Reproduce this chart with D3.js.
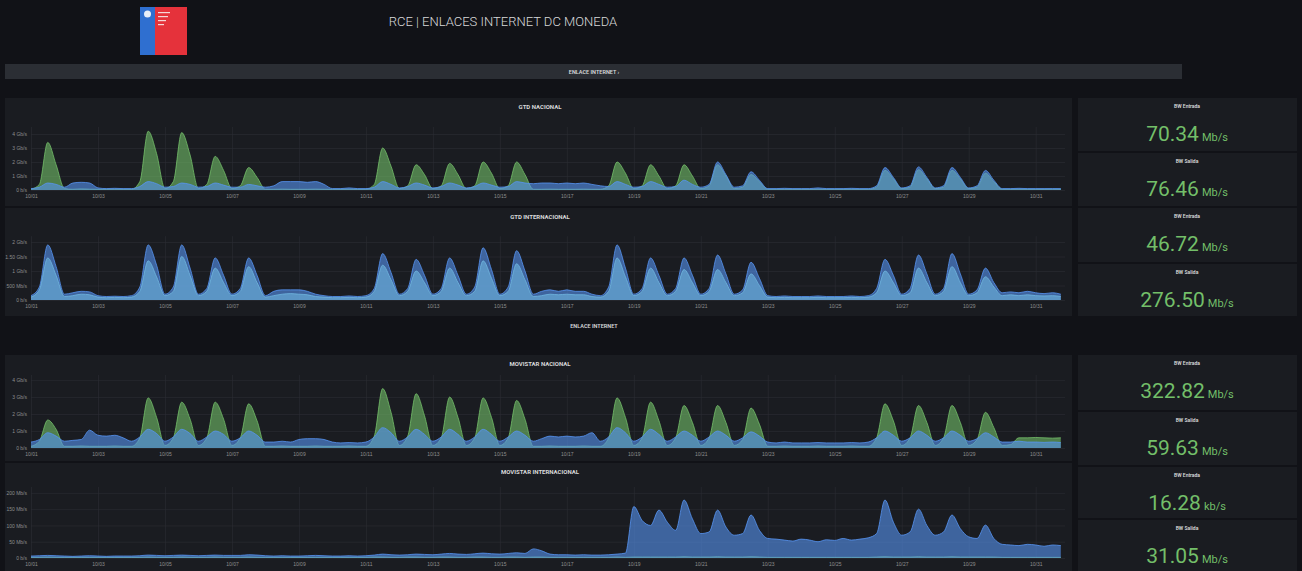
<!DOCTYPE html>
<html lang="es">
<head>
<meta charset="utf-8">
<script src="https://cdn.jsdelivr.net/npm/d3@7"></script>
<style>
body { margin: 0; background: #111217; font-family: Roboto, "Open Sans", sans-serif; }
svg { display: block; }
</style>
</head>
<body>
<script>
// samples every 6 hours, 31 days (4 per day)
// x axis tick labels, every 2 days
const xTickDays = [0, 2, 4, 6, 8, 10, 12, 14, 16, 18, 20, 22, 24, 26, 28, 30];
const xLabels = ["10/01","10/03","10/05","10/07","10/09","10/11","10/13","10/15",
                 "10/17","10/19","10/21","10/23","10/25","10/27","10/29","10/31"];

// GTD NACIONAL (Gb/s)
const gtdNacIn = [
  0.05,0.4,3.4,1.8, 0.1,0.05,0.08,0.06,
  0.05,0.05,0.06,0.05, 0.05,0.6,4.2,2.6,
  0.1,0.6,4.1,2.5, 0.1,0.4,2.4,1.4,
  0.1,0.3,1.6,0.9, 0.05,0.05,0.06,0.05,
  0.05,0.05,0.06,0.05, 0.05,0.05,0.06,0.05,
  0.05,0.4,3.0,1.7, 0.1,0.3,1.8,1.1,
  0.1,0.3,1.9,1.1, 0.1,0.3,2.0,1.2,
  0.1,0.3,2.0,1.1, 0.05,0.05,0.06,0.05,
  0.05,0.05,0.06,0.05, 0.05,0.3,2.0,1.2,
  0.1,0.3,1.8,1.0, 0.1,0.3,1.8,1.0,
  0.1,0.3,1.8,1.0, 0.1,0.2,1.1,0.6,
  0.05,0.05,0.06,0.05, 0.05,0.05,0.06,0.05,
  0.05,0.05,0.06,0.05, 0.05,0.2,1.4,0.8,
  0.1,0.2,1.45,0.8, 0.1,0.2,1.4,0.8,
  0.1,0.2,1.2,0.6, 0.05,0.05,0.06,0.05,
  0.05,0.05,0.06,0.05
];
const gtdNacOut = [
  0.1,0.2,0.5,0.4, 0.2,0.5,0.55,0.5,
  0.15,0.1,0.12,0.1, 0.1,0.25,0.6,0.45,
  0.2,0.25,0.5,0.4, 0.2,0.25,0.5,0.35,
  0.2,0.2,0.4,0.3, 0.2,0.3,0.6,0.6,
  0.6,0.55,0.6,0.4, 0.1,0.1,0.15,0.1,
  0.1,0.2,0.6,0.4, 0.15,0.25,0.5,0.35,
  0.15,0.25,0.5,0.35, 0.15,0.25,0.5,0.35,
  0.2,0.25,0.6,0.5, 0.45,0.5,0.5,0.45,
  0.5,0.45,0.5,0.4, 0.3,0.25,0.6,0.4,
  0.2,0.25,0.6,0.4, 0.2,0.25,0.7,0.4,
  0.2,0.4,2.0,1.1, 0.2,0.3,1.3,0.7,
  0.1,0.1,0.12,0.1, 0.1,0.1,0.15,0.1,
  0.1,0.1,0.12,0.1, 0.1,0.3,1.6,0.9,
  0.15,0.3,1.65,0.9, 0.15,0.3,1.6,0.9,
  0.15,0.3,1.4,0.7, 0.1,0.1,0.12,0.1,
  0.1,0.1,0.1,0.1
];

// GTD INTERNACIONAL (Gb/s)
const gtdIntIn = [
  0.1,0.35,1.45,0.85, 0.12,0.15,0.2,0.18,
  0.1,0.08,0.09,0.08, 0.1,0.3,1.35,0.8,
  0.15,0.3,1.5,0.85, 0.15,0.3,1.1,0.6,
  0.15,0.3,1.15,0.6, 0.1,0.15,0.2,0.22,
  0.2,0.18,0.12,0.1, 0.08,0.08,0.09,0.08,
  0.1,0.3,1.2,0.7, 0.15,0.3,1.0,0.6,
  0.15,0.3,1.1,0.6, 0.15,0.3,1.35,0.75,
  0.15,0.3,1.25,0.7, 0.12,0.15,0.2,0.18,
  0.2,0.18,0.18,0.12, 0.1,0.3,1.45,0.8,
  0.15,0.3,1.1,0.6, 0.15,0.3,1.05,0.6,
  0.15,0.3,1.05,0.6, 0.15,0.25,0.9,0.5,
  0.1,0.08,0.09,0.08, 0.08,0.08,0.09,0.08,
  0.08,0.08,0.09,0.08, 0.1,0.25,1.0,0.6,
  0.15,0.25,1.1,0.6, 0.15,0.3,1.15,0.6,
  0.15,0.25,0.8,0.45, 0.15,0.18,0.15,0.18,
  0.15,0.14,0.15,0.12
];
const gtdIntOut = [
  0.15,0.45,1.9,1.15, 0.2,0.25,0.3,0.28,
  0.15,0.12,0.13,0.12, 0.15,0.45,1.9,1.2,
  0.2,0.45,1.9,1.1, 0.2,0.4,1.45,0.85,
  0.2,0.4,1.45,0.85, 0.15,0.3,0.35,0.35,
  0.35,0.3,0.2,0.15, 0.12,0.12,0.14,0.12,
  0.15,0.4,1.6,0.95, 0.2,0.4,1.4,0.85,
  0.2,0.4,1.45,0.85, 0.2,0.45,1.8,1.05,
  0.2,0.45,1.7,1.0, 0.2,0.3,0.35,0.3,
  0.35,0.3,0.3,0.2, 0.15,0.45,1.9,1.1,
  0.2,0.4,1.45,0.85, 0.2,0.4,1.45,0.85,
  0.2,0.4,1.55,0.9, 0.2,0.35,1.3,0.75,
  0.15,0.12,0.14,0.12, 0.12,0.12,0.14,0.12,
  0.12,0.12,0.14,0.12, 0.15,0.4,1.4,0.85,
  0.2,0.4,1.55,0.9, 0.2,0.4,1.6,0.9,
  0.2,0.35,1.1,0.6, 0.25,0.28,0.25,0.3,
  0.25,0.22,0.25,0.2
];

// MOVISTAR NACIONAL (Gb/s)
const movNacIn = [
  0.1,0.4,1.65,1.1, 0.1,0.1,0.12,0.1,
  0.1,0.1,0.12,0.1, 0.1,0.6,2.95,1.8,
  0.15,0.6,2.7,1.7, 0.15,0.6,2.7,1.7,
  0.15,0.6,2.6,1.6, 0.1,0.1,0.12,0.1,
  0.1,0.1,0.12,0.1, 0.1,0.1,0.12,0.1,
  0.1,0.7,3.5,2.1, 0.15,0.7,3.2,1.9,
  0.15,0.6,3.0,1.8, 0.15,0.6,2.95,1.8,
  0.15,0.6,2.8,1.7, 0.1,0.1,0.12,0.1,
  0.1,0.1,0.12,0.1, 0.1,0.6,2.95,1.8,
  0.15,0.6,2.7,1.6, 0.15,0.6,2.5,1.5,
  0.15,0.6,2.5,1.5, 0.15,0.5,2.35,1.4,
  0.1,0.1,0.12,0.1, 0.1,0.1,0.12,0.1,
  0.1,0.1,0.12,0.1, 0.1,0.6,2.6,1.6,
  0.15,0.6,2.5,1.5, 0.15,0.6,2.5,1.5,
  0.15,0.5,2.1,1.2, 0.15,0.2,0.6,0.6,
  0.62,0.6,0.58,0.6
];
const movNacOut = [
  0.35,0.5,0.9,0.7, 0.4,0.45,0.5,1.05,
  0.75,0.7,0.75,0.6, 0.4,0.65,1.1,0.85,
  0.4,0.65,1.1,0.85, 0.4,0.65,1.0,0.8,
  0.4,0.6,1.0,0.75, 0.35,0.35,0.4,0.35,
  0.5,0.55,0.55,0.5, 0.35,0.3,0.32,0.3,
  0.35,0.65,1.2,0.9, 0.4,0.65,1.1,0.8,
  0.4,0.65,1.1,0.8, 0.4,0.65,1.1,0.8,
  0.4,0.65,1.0,0.75, 0.4,0.55,0.7,0.65,
  0.7,0.65,0.7,0.9, 0.4,0.65,1.2,0.9,
  0.4,0.65,1.1,0.8, 0.4,0.65,1.0,0.75,
  0.4,0.65,1.0,0.75, 0.4,0.6,0.95,0.7,
  0.35,0.3,0.35,0.3, 0.3,0.3,0.32,0.3,
  0.3,0.3,0.32,0.3, 0.35,0.6,1.0,0.75,
  0.4,0.6,1.0,0.75, 0.4,0.6,1.0,0.75,
  0.4,0.55,0.9,0.65, 0.35,0.35,0.4,0.35,
  0.35,0.33,0.35,0.32
];

// MOVISTAR INTERNACIONAL (Mb/s)
const movIntIn = [
  2,2,3,2, 2,2,2,2, 2,2,2,2, 2,2,3,2,
  2,2,3,2, 2,2,3,2, 2,2,3,2, 2,2,2,2,
  2,2,2,2, 2,2,2,2, 2,3,3,2, 2,3,3,2,
  2,3,3,2, 2,3,3,2, 2,3,3,2, 3,3,2,2,
  2,2,2,2, 2,2,3,2, 3,3,3,3, 3,3,4,3,
  3,3,4,3, 3,3,4,3, 2,2,2,2, 2,2,2,2,
  2,2,2,2, 2,3,4,3, 3,3,4,3, 3,3,4,3,
  3,3,3,3, 2,2,2,2, 2,2,2,2
];
const movIntOut = [
  6,7,8,7, 6,5,6,7,
  6,5,6,6, 6,7,9,8,
  7,8,9,8, 7,8,9,8,
  8,8,10,9, 7,6,7,6,
  6,7,8,7, 6,6,7,6,
  7,9,12,10, 9,10,12,11,
  10,12,14,12, 11,13,15,13,
  12,14,16,14, 28,22,12,10,
  10,9,10,9, 9,10,12,15,
  158,115,100,147, 110,85,178,120,
  75,80,147,95, 70,75,132,85,
  60,58,55,52, 58,55,50,56,
  54,60,55,58, 62,75,178,110,
  70,80,150,100, 70,80,132,90,
  65,60,101,60, 42,40,38,42,
  40,36,40,38
];

// y tick values and labels
const yTicksGbps = [0, 1, 2, 3, 4];
const yLabelsGbps = ["0 b/s", "1 Gb/s", "2 Gb/s", "3 Gb/s", "4 Gb/s"];
const yTicksInt = [0, 0.5, 1, 1.5, 2];
const yLabelsInt = ["0 b/s", "500 Mb/s", "1 Gb/s", "1.50 Gb/s", "2 Gb/s"];
const yTicksMov = [0, 50, 100, 150, 200];
const yLabelsMov = ["0 b/s", "50 Mb/s", "100 Mb/s", "150 Mb/s", "200 Mb/s"];

// stat panels
const statLabels = ["BW Entrada","BW Salida","BW Entrada","BW Salida","BW Entrada","BW Salida","BW Entrada","BW Salida"];
const statValues = ["70.34","76.46","46.72","276.50","322.82","59.63","16.28","31.05"];
const statUnits = ["Mb/s","Mb/s","Mb/s","Mb/s","Mb/s","Mb/s","kb/s","Mb/s"];

const GREEN = "#73bf69", BLUE = "#5794f2", LIGHT = "#70b6e0";
const PANEL = "#1a1c21", TXT = "#d8d9da", AXIS = "#8e8e8e", GRID = "#2c2e34";

const svg = d3.select("body").append("svg")
  .attr("width", 1302).attr("height", 571);

svg.append("rect").attr("width", 1302).attr("height", 571).attr("fill", "#111217");

// logo
const logo = svg.append("g");
logo.append("rect").attr("x", 140).attr("y", 7).attr("width", 15).attr("height", 48).attr("fill", "#2f6fd0");
logo.append("rect").attr("x", 155).attr("y", 7).attr("width", 32).attr("height", 48).attr("fill", "#e5323b");
logo.append("circle").attr("cx", 147.5).attr("cy", 14).attr("r", 3.5).attr("fill", "#e8eef8");
[12, 16, 20, 24].forEach(function(yy, i) {
  logo.append("rect").attr("x", 158).attr("y", yy).attr("width", 12 - i * 2).attr("height", 1.2).attr("fill", "#f6d6d8");
});

svg.append("text").attr("x", 503).attr("y", 26).attr("text-anchor", "middle")
  .attr("fill", TXT).style("font-size", "13px").style("font-weight", 300)
  .text("RCE | ENLACES INTERNET DC MONEDA");

// row headers
svg.append("rect").attr("x", 5).attr("y", 64).attr("width", 1177).attr("height", 15).attr("fill", "#2b2e34");
svg.append("text").attr("x", 594).attr("y", 73.5).attr("text-anchor", "middle")
  .attr("fill", TXT).style("font-size", "5.5px").style("font-weight", 600).text("ENLACE INTERNET ›");
svg.append("text").attr("x", 594).attr("y", 328).attr("text-anchor", "middle")
  .attr("fill", TXT).style("font-size", "5.5px").style("font-weight", 600).text("ENLACE INTERNET");

const x = d3.scaleLinear().domain([0, 123.5]).range([31, 1065]);

const panels = [
  { title: "GTD NACIONAL", y0: 98, y1: 206, bottom: 190, top: 127, max: 4.5,
    ticks: yTicksGbps, labels: yLabelsGbps,
    series: [{ v: gtdNacIn, c: GREEN }, { v: gtdNacOut, c: BLUE }] },
  { title: "GTD INTERNACIONAL", y0: 208, y1: 316, bottom: 300, top: 236.2, max: 2.2,
    ticks: yTicksInt, labels: yLabelsInt,
    series: [{ v: gtdIntOut, c: BLUE }, { v: gtdIntIn, c: LIGHT }] },
  { title: "MOVISTAR NACIONAL", y0: 355, y1: 461, bottom: 448, top: 375, max: 4.3,
    ticks: yTicksGbps, labels: yLabelsGbps,
    series: [{ v: movNacIn, c: GREEN }, { v: movNacOut, c: BLUE }] },
  { title: "MOVISTAR INTERNACIONAL", y0: 463, y1: 571, bottom: 558, top: 487, max: 218,
    ticks: yTicksMov, labels: yLabelsMov,
    series: [{ v: movIntIn, c: GREEN }, { v: movIntOut, c: BLUE }] }
];

panels.forEach(function(p) {
  const g = svg.append("g");
  g.append("rect").attr("x", 5).attr("y", p.y0).attr("width", 1067).attr("height", p.y1 - p.y0)
    .attr("fill", PANEL);
  g.append("text").attr("x", 540).attr("y", p.y0 + 11).attr("text-anchor", "middle")
    .attr("fill", TXT).style("font-size", "6px").style("font-weight", 700).text(p.title);

  const y = d3.scaleLinear().domain([0, p.max]).range([p.bottom, p.top]);

  // y axis + horizontal grid
  const ya = g.append("g").attr("transform", "translate(31,0)")
    .call(d3.axisLeft(y).tickValues(p.ticks).tickSize(-1034).tickPadding(4)
      .tickFormat(function(d, i) { return p.labels[i]; }));
  ya.select(".domain").remove();
  ya.selectAll("line").attr("stroke", GRID).attr("stroke-width", 0.6);
  ya.selectAll("text").attr("fill", AXIS).style("font-size", "5px");

  // x axis + vertical grid
  const xa = g.append("g").attr("transform", "translate(0," + p.bottom + ")")
    .call(d3.axisBottom(x).tickValues(xTickDays.map(function(d) { return d * 4; }))
      .tickSize(-(p.bottom - p.top)).tickPadding(4)
      .tickFormat(function(d, i) { return xLabels[i]; }));
  xa.select(".domain").remove();
  xa.selectAll("line").attr("stroke", GRID).attr("stroke-width", 0.6);
  xa.selectAll("text").attr("fill", AXIS).style("font-size", "5px");

  p.series.forEach(function(s) {
    const area = d3.area().x(function(d, i) { return x(i); })
      .y0(y(0)).y1(function(d) { return y(d); }).curve(d3.curveMonotoneX);
    const line = d3.line().x(function(d, i) { return x(i); })
      .y(function(d) { return y(d); }).curve(d3.curveMonotoneX);
    g.append("path").datum(s.v).attr("d", area).attr("fill", s.c).attr("fill-opacity", 0.6);
    g.append("path").datum(s.v).attr("d", line).attr("fill", "none")
      .attr("stroke", s.c).attr("stroke-width", 0.8);
  });
});

// stat panels
const statBoxes = [[98, 151], [153, 206], [208, 262], [264, 316], [355, 410], [412, 465], [467, 518], [520, 571]];
statBoxes.forEach(function(b, i) {
  const g = svg.append("g");
  g.append("rect").attr("x", 1078).attr("y", b[0]).attr("width", 219).attr("height", b[1] - b[0])
    .attr("fill", PANEL);
  g.append("text").attr("x", 1187).attr("y", b[0] + 10).attr("text-anchor", "middle")
    .attr("fill", TXT).style("font-size", "5px").style("font-weight", 600).text(statLabels[i]);
  const t = g.append("text").attr("x", 1187).attr("y", b[0] + 43).attr("text-anchor", "middle")
    .attr("fill", GREEN);
  t.append("tspan").style("font-size", "21px").text(statValues[i]);
  t.append("tspan").attr("dx", 3).style("font-size", "11px").text(statUnits[i]);
});
</script>
</body>
</html>
